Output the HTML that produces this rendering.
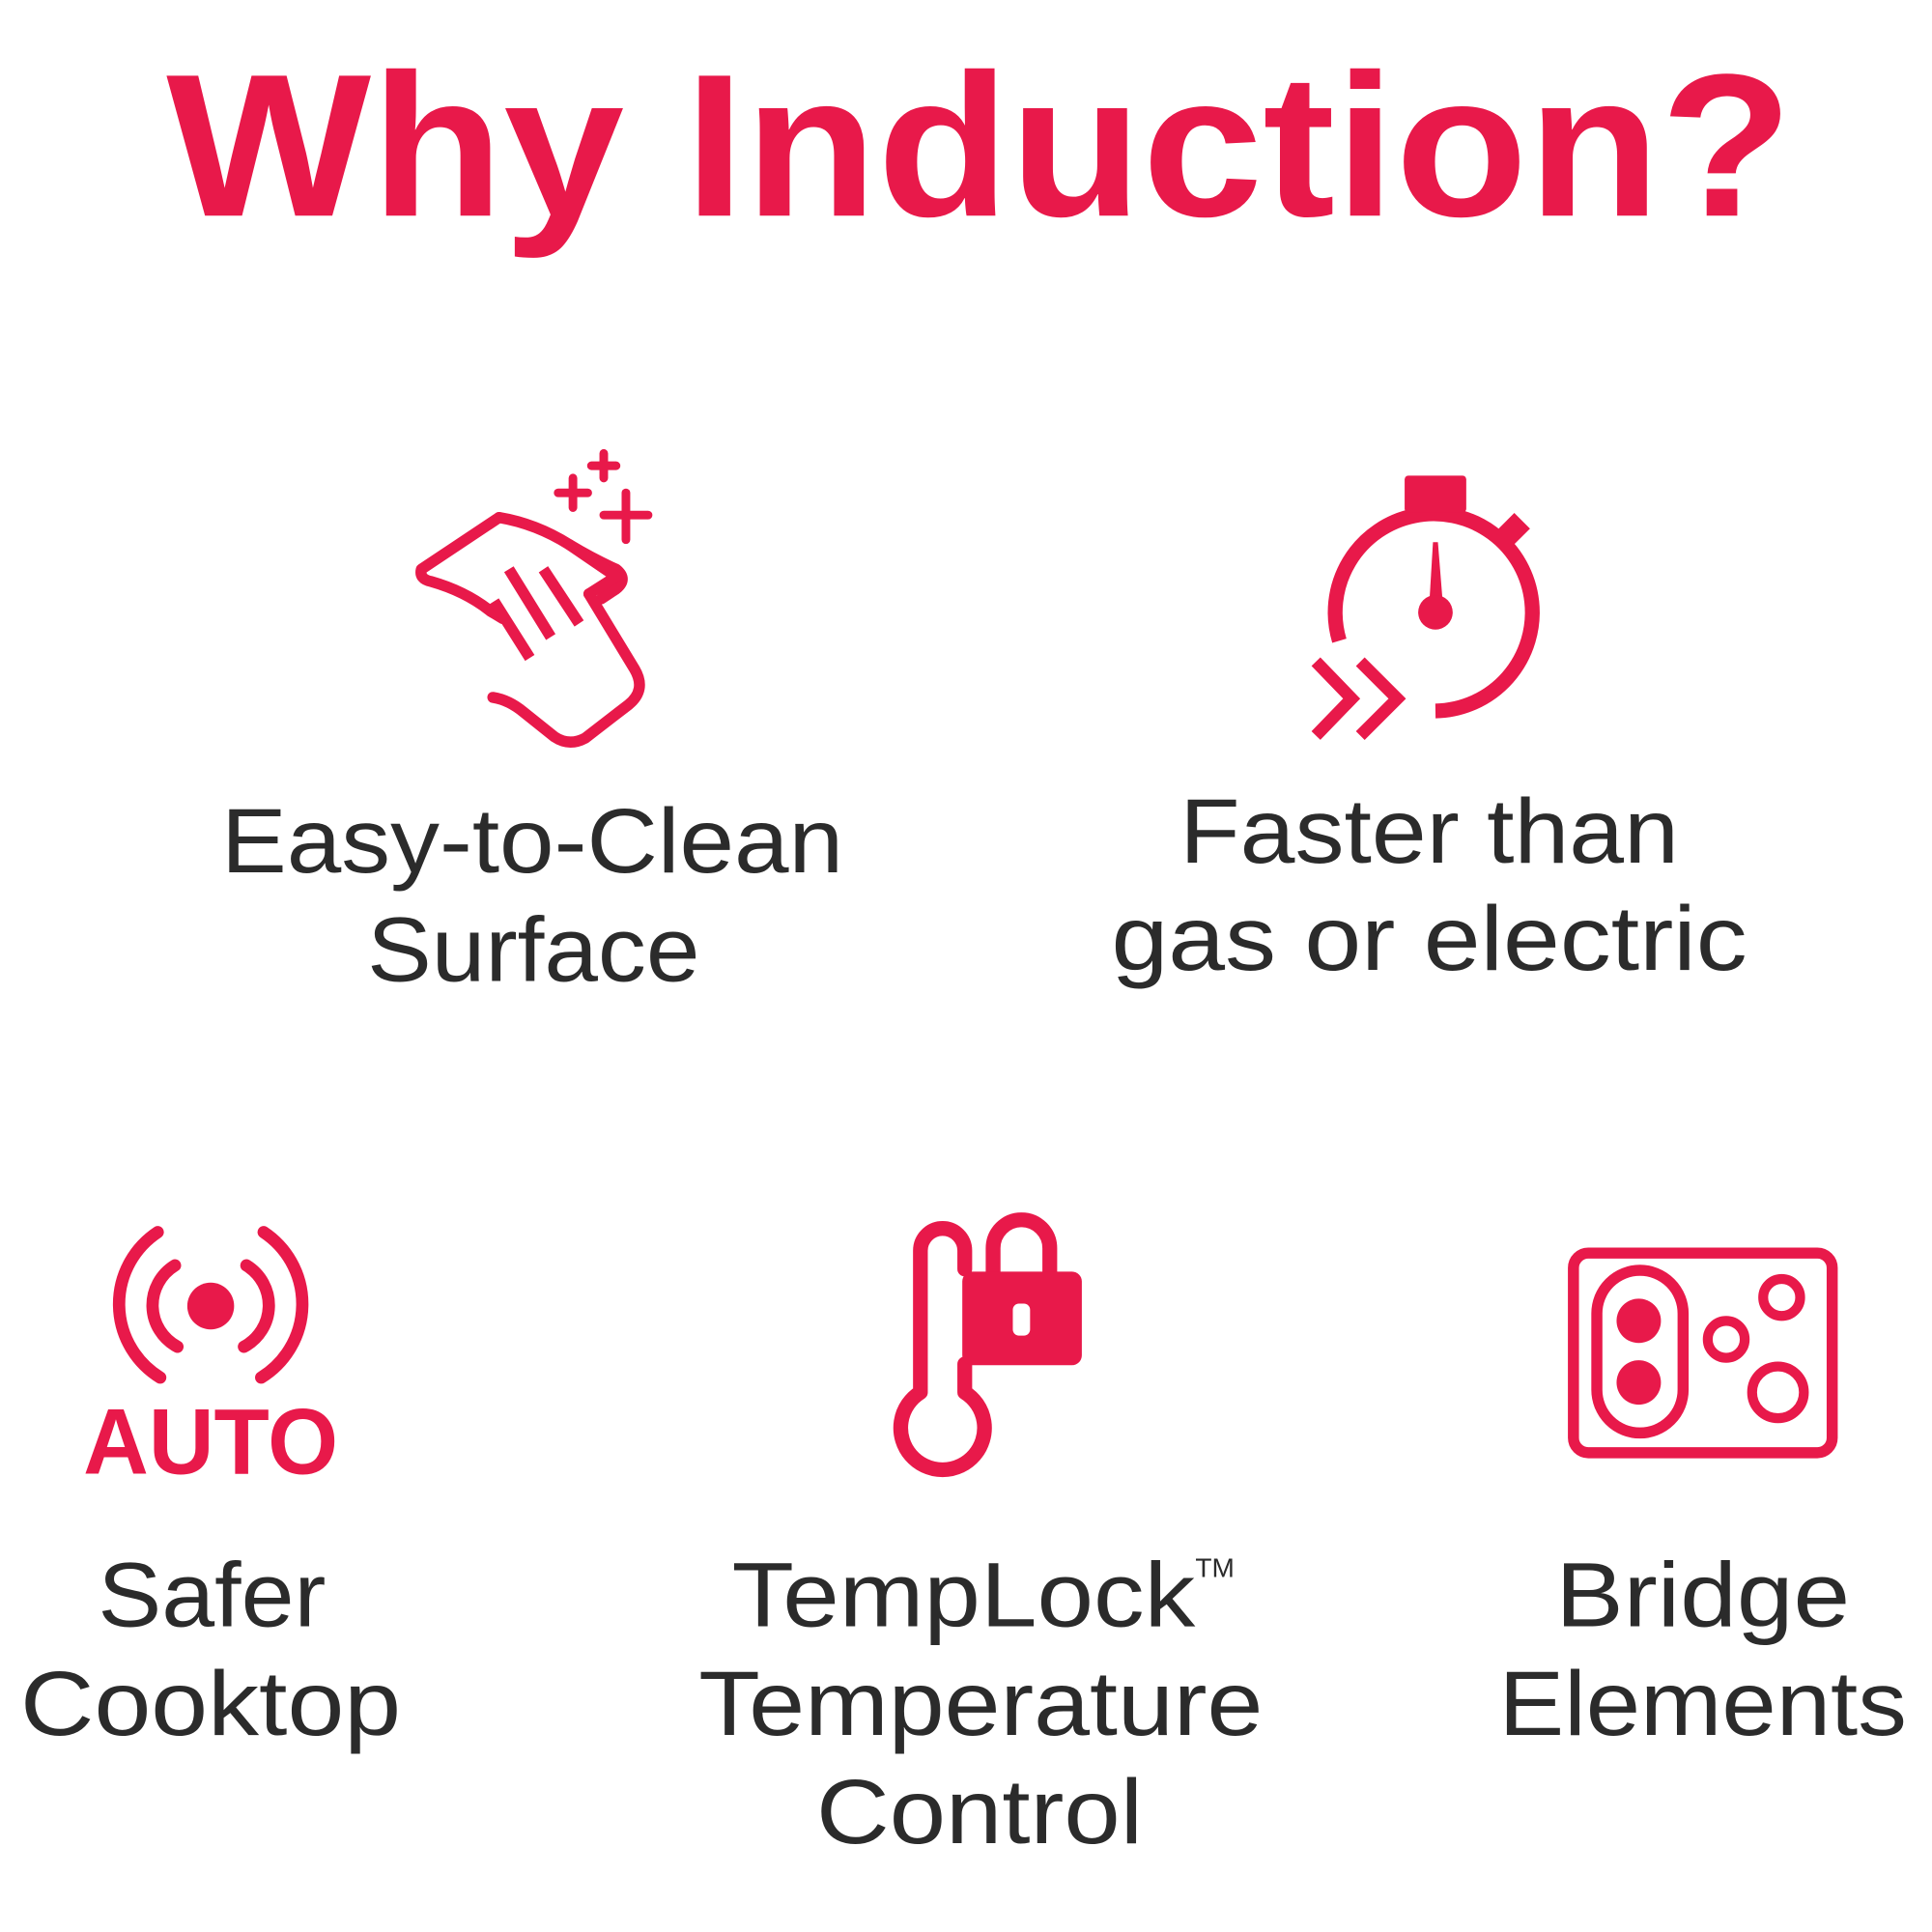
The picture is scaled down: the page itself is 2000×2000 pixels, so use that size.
<!DOCTYPE html>
<html><head><meta charset="utf-8"><style>html,body{margin:0;padding:0;background:#fff}svg{display:block}</style></head>
<body>
<svg width="2000" height="2000" viewBox="0 0 1568 1568" xmlns="http://www.w3.org/2000/svg">
<g font-family="Liberation Sans, sans-serif">
<text x="795" y="175" font-size="165" font-weight="bold" fill="#E8194A" text-anchor="middle" textLength="1320" lengthAdjust="spacingAndGlyphs">Why Induction?</text>
<g fill="#2b2b2b" font-size="74" text-anchor="middle">
<text x="432" y="708" textLength="505" lengthAdjust="spacingAndGlyphs">Easy-to-Clean</text>
<text x="433" y="796" textLength="270" lengthAdjust="spacingAndGlyphs">Surface</text>
<text x="1160" y="700" textLength="405" lengthAdjust="spacingAndGlyphs">Faster than</text>
<text x="1160" y="787" textLength="516" lengthAdjust="spacingAndGlyphs">gas or electric</text>
<text x="172" y="1320" textLength="185" lengthAdjust="spacingAndGlyphs">Safer</text>
<text x="171" y="1408" textLength="309" lengthAdjust="spacingAndGlyphs">Cooktop</text>
<text x="782" y="1320" textLength="376" lengthAdjust="spacingAndGlyphs">TempLock</text>
<text x="986" y="1280" font-size="22">TM</text>
<text x="796" y="1408" textLength="458" lengthAdjust="spacingAndGlyphs">Temperature</text>
<text x="795" y="1496" textLength="265" lengthAdjust="spacingAndGlyphs">Control</text>
<text x="1382" y="1320" textLength="239" lengthAdjust="spacingAndGlyphs">Bridge</text>
<text x="1382" y="1408" textLength="331" lengthAdjust="spacingAndGlyphs">Elements</text>
</g>
</g>
<g stroke="#E8194A" fill="none" stroke-width="9" stroke-linecap="round" stroke-linejoin="round">
<!-- hand -->
<path d="M405,420 L342,462 Q340,470 350,472 Q378,480 398,496 L408,502"/>
<path d="M405,420 Q435,425 462,442 Q482,454 500,462 Q510,470 500,478 L488,486"/>
<path d="M462,442 L500,468 L478,482"/>
<path d="M478,482 L515,543 Q525,560 510,572 L475,599 Q462,606 450,598 L425,578 Q413,568 400,566" />
<path d="M413,462 L447,517 M441,462 L470,506 M401,488 L430,534" stroke-linecap="butt"/>
<!-- sparkles -->
<path d="M465,388 L465,412 M453,400 L477,400 M490,368 L490,388 M480,378 L500,378 M508,400 L508,438 M490,418 L526,418" stroke-width="7"/>
<!-- stopwatch -->
<path d="M1087,520 A80,80 0 1 1 1165,577" stroke-width="12" stroke-linecap="butt"/>
<path d="M1068,537 L1097,567 L1068,597 M1104,537 L1134,567 L1104,597" stroke-width="10" stroke-linecap="butt" stroke-linejoin="miter"/>
<!-- AUTO arcs -->
<path d="M128,1000 A70,70 0 0 0 130,1118 M214,1000 A70,70 0 0 1 212,1118" stroke-width="10"/>
<path d="M142,1027 A38,38 0 0 0 144,1093 M200,1027 A38,38 0 0 1 198,1093" stroke-width="10"/>
<!-- thermometer -->
<path d="M747,1130 L747,1015 A18,18 0 0 1 783,1015 L783,1030 M783,1107 L783,1130 A34,34 0 1 1 747,1130" stroke-width="12"/>
<path d="M806,1032 L806,1013 A23,23 0 0 1 852,1013 L852,1032" stroke-width="12"/>
<!-- burner -->
<rect x="1277" y="1017" width="210" height="162" rx="12" stroke-width="9"/>
<rect x="1296" y="1031" width="70" height="132" rx="35" stroke-width="9"/>
<circle cx="1446" cy="1053" r="15" stroke-width="8"/>
<circle cx="1401" cy="1087" r="15" stroke-width="8"/>
<circle cx="1443" cy="1130" r="21" stroke-width="8"/>
</g>
<g fill="#E8194A">
<rect x="1140" y="386" width="50" height="30" rx="3"/>
<rect x="1220" y="420" width="18" height="18" transform="rotate(45 1229 429)"/>
<path d="M1160,490 L1163,440 L1167,440 L1171,490 Z"/>
<circle cx="1165" cy="497" r="14"/>
<circle cx="171" cy="1060" r="19"/>
<text x="171" y="1196" font-family="Liberation Sans, sans-serif" font-weight="bold" font-size="76" text-anchor="middle" textLength="207" lengthAdjust="spacingAndGlyphs">AUTO</text>
<rect x="781" y="1032" width="97" height="76" rx="8"/>
<circle cx="1330" cy="1072" r="18"/>
<circle cx="1330" cy="1122" r="18"/>
</g>
<rect x="822" y="1058" width="14" height="26" rx="5" fill="#fff"/>
</svg>
</body></html>
